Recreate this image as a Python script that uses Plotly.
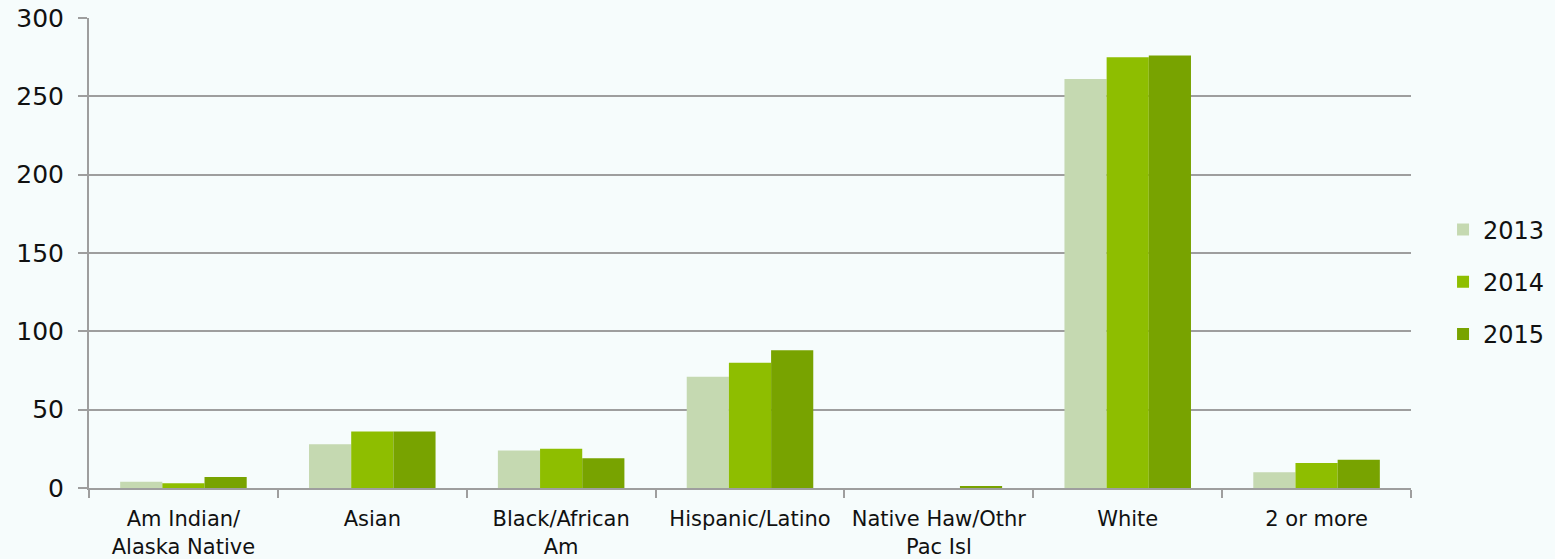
import plotly.graph_objects as go

categories = ["Am Indian/<br>Alaska Native", "Asian", "Black/African<br>Am", "Hispanic/Latino",
              "Native Haw/Othr<br>Pac Isl", "White", "2 or more"]
years = ["2013", "2014", "2015"]
values_2013 = [4, 28, 24, 71, 0, 261, 10]
values_2014 = [3, 36, 25, 80, 0, 275, 16]
values_2015 = [7, 36, 19, 88, 1, 276, 18]
colors = ["#C5D9B1", "#8EBE00", "#78A300"]
y_ticks = [0, 50, 100, 150, 200, 250, 300]

fig = go.Figure()
for name, vals, col in zip(years, [values_2013, values_2014, values_2015], colors):
    fig.add_trace(go.Bar(x=categories, y=vals, name=name, legendgroup=name,
                         marker=dict(color=col, line=dict(width=0))))

grid = "#9E9E9E"
font_family = "DejaVu Sans, Verdana, sans-serif"
fig.update_layout(
    barmode="group",
    bargap=0.33,
    bargroupgap=0,
    width=1555, height=559,
    margin=dict(l=89, r=144, t=18, b=71, autoexpand=False),
    paper_bgcolor="#F6FCFC",
    plot_bgcolor="#F6FCFC",
    font=dict(family=font_family, size=21, color="#111111"),
    legend=dict(xref="container", yref="container", x=0.928, y=0.4955,
                xanchor="left", yanchor="middle",
                font=dict(size=24), tracegroupgap=18, itemwidth=30,
                bgcolor="rgba(0,0,0,0)"),
    xaxis=dict(showline=True, linecolor=grid, linewidth=2, ticks="outside",
               tickson="boundaries", ticklen=8, tickwidth=2, tickcolor=grid,
               tickfont=dict(size=21), tickangle=0, showgrid=False, automargin=False,
               ticklabelstandoff=11),
    yaxis=dict(range=[0, 300], tickvals=y_ticks, showgrid=True, gridcolor=grid, gridwidth=2,
               showline=True, linecolor=grid, linewidth=2, ticks="outside", ticklen=9,
               tickwidth=2, tickcolor=grid, zeroline=False, tickfont=dict(size=25),
               ticklabelstandoff=9, automargin=False),
)

fig.write_html("out.html")
